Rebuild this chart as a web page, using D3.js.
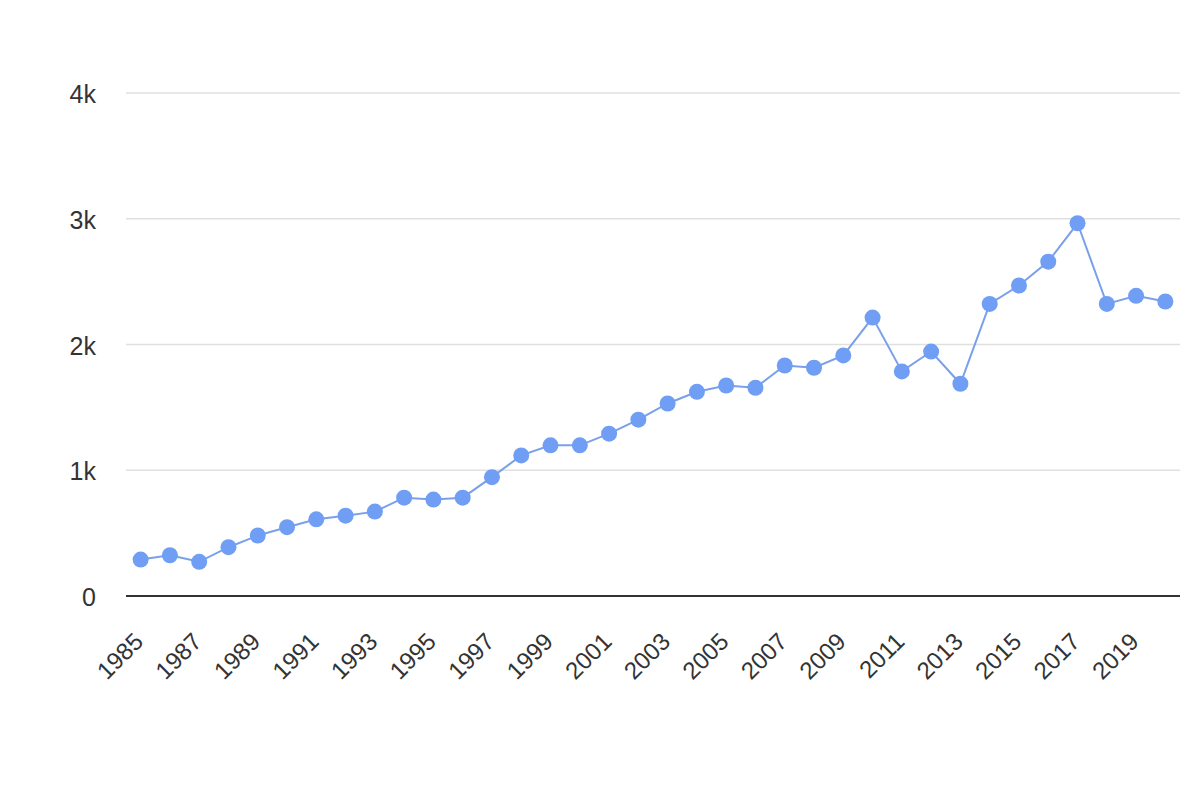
<!DOCTYPE html>
<html>
<head>
<meta charset="utf-8">
<script src="https://cdn.jsdelivr.net/npm/d3@7.9.0/dist/d3.min.js"></script>
<style>
  body { margin: 0; background: #fff; }
  svg { display: block; font-family: Arial, "Liberation Sans", sans-serif; }
</style>
</head>
<body>
<svg id="chart" width="1200" height="800"></svg>
<script>
const years = d3.range(1985, 2021);
const values = [
  290, 324, 272, 388, 481, 547, 610, 639, 671, 782,
  767, 782, 945, 1118, 1198, 1198, 1291, 1402, 1531, 1624,
  1674, 1656, 1833, 1815, 1913, 2214, 1786, 1944, 1688, 2323,
  2469, 2659, 2964, 2323, 2387, 2342
];
const yTicks = [0, 1000, 2000, 3000, 4000];
const yTickLabels = ['0', '1k', '2k', '3k', '4k'];

const data = years.map((y, i) => ({ year: y, value: values[i] }));

const margin = { left: 126, right: 20, top: 93, bottom: 204 };
const width = 1200, height = 800;

const svg = d3.select('#chart');

const x = d3.scaleBand()
  .domain(years)
  .range([margin.left, width - margin.right]);

const y = d3.scaleLinear()
  .domain([0, 4000])
  .range([height - margin.bottom, margin.top]);

const cx = (d) => x(d) + x.bandwidth() / 2;

// gridlines
svg.append('g')
  .selectAll('line')
  .data(yTicks.slice(1))
  .join('line')
  .attr('x1', margin.left)
  .attr('x2', width - margin.right)
  .attr('y1', (d) => y(d))
  .attr('y2', (d) => y(d))
  .attr('stroke', '#e0e0e0')
  .attr('stroke-width', 1.5);

// y labels
svg.append('g')
  .selectAll('text')
  .data(yTicks)
  .join('text')
  .attr('x', 96)
  .attr('y', (d) => y(d))
  .attr('dy', '0.4em')
  .attr('text-anchor', 'end')
  .attr('font-size', 25)
  .attr('fill', '#333')
  .text((d, i) => yTickLabels[i]);

// baseline
svg.append('line')
  .attr('x1', margin.left)
  .attr('x2', width - margin.right)
  .attr('y1', y(0))
  .attr('y2', y(0))
  .attr('stroke', '#333')
  .attr('stroke-width', 2);

// x labels, every other year
svg.append('g')
  .selectAll('text')
  .data(years.filter((d, i) => i % 2 === 0))
  .join('text')
  .attr('transform', (d) => `translate(${cx(d) + 4},${y(0) + 47}) rotate(-45)`)
  .attr('text-anchor', 'end')
  .attr('font-size', 24)
  .attr('fill', '#333')
  .text((d) => d);

// line
const line = d3.line()
  .x((d) => cx(d.year))
  .y((d) => y(d.value));

svg.append('path')
  .datum(data)
  .attr('d', line)
  .attr('fill', 'none')
  .attr('stroke', '#79a0ea')
  .attr('stroke-width', 2);

// points
svg.append('g')
  .selectAll('circle')
  .data(data)
  .join('circle')
  .attr('cx', (d) => cx(d.year))
  .attr('cy', (d) => y(d.value))
  .attr('r', 8)
  .attr('fill', '#6f9ef4');
</script>
</body>
</html>
